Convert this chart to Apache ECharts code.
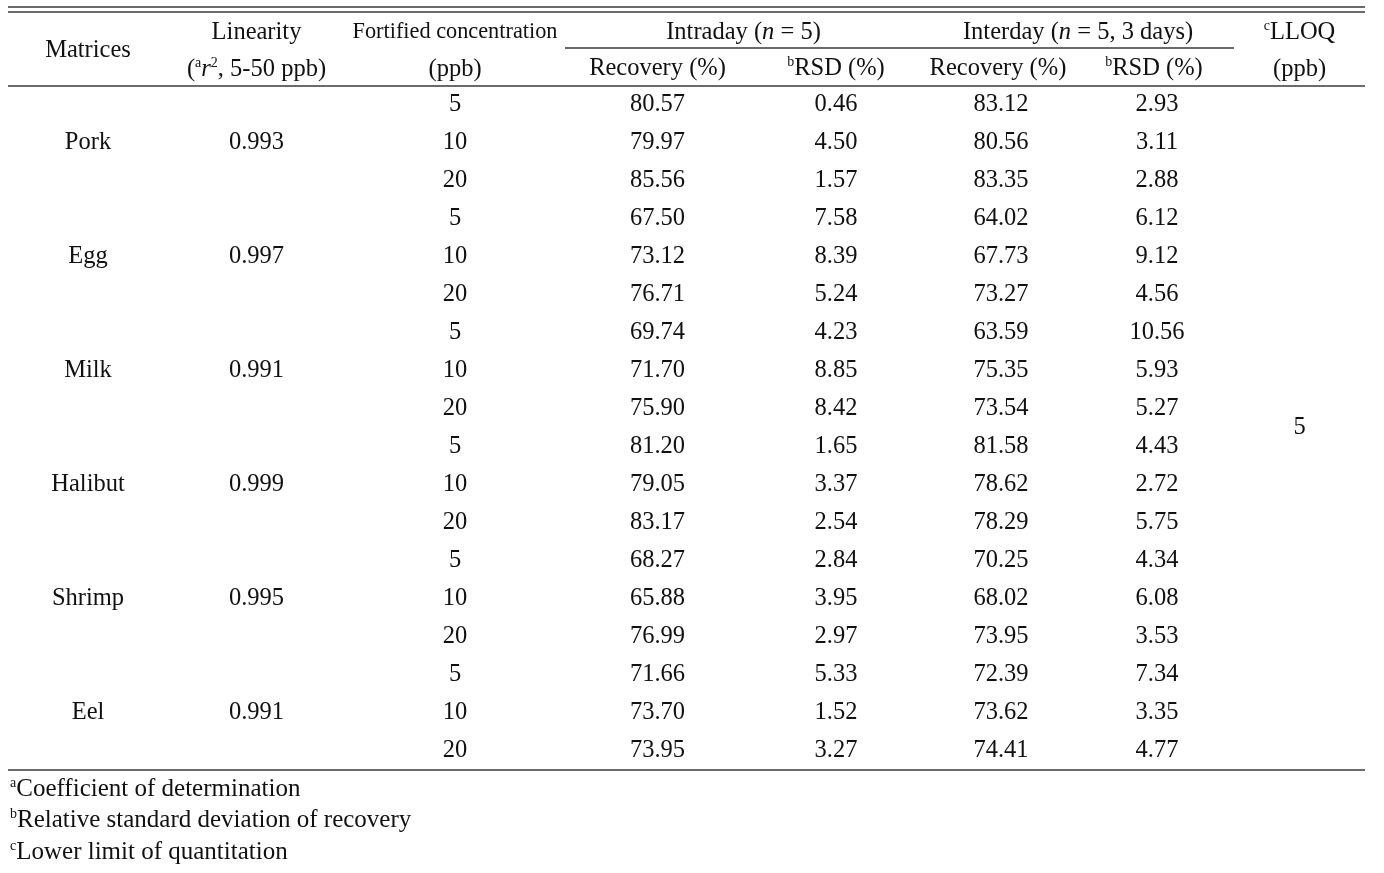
<!DOCTYPE html>
<html>
<head>
<meta charset="utf-8">
<script src="https://cdn.jsdelivr.net/npm/echarts@6.0.0/dist/echarts.min.js"></script>
<style>
html, body { margin: 0; padding: 0; background: #fff; }
#main { width: 1384px; height: 873px; }
</style>
</head>
<body>
<div id="main"></div>
<script>
// table values
var matrices = ['Pork', 'Egg', 'Milk', 'Halibut', 'Shrimp', 'Eel'];
var linearity = ['0.993', '0.997', '0.991', '0.999', '0.995', '0.991'];
var concentrations = ['5', '10', '20'];
var intraRecovery = [80.57, 79.97, 85.56, 67.50, 73.12, 76.71, 69.74, 71.70, 75.90,
    81.20, 79.05, 83.17, 68.27, 65.88, 76.99, 71.66, 73.70, 73.95];
var intraRsd = [0.46, 4.50, 1.57, 7.58, 8.39, 5.24, 4.23, 8.85, 8.42,
    1.65, 3.37, 2.54, 2.84, 3.95, 2.97, 5.33, 1.52, 3.27];
var interRecovery = [83.12, 80.56, 83.35, 64.02, 67.73, 73.27, 63.59, 75.35, 73.54,
    81.58, 78.62, 78.29, 70.25, 68.02, 73.95, 72.39, 73.62, 74.41];
var interRsd = [2.93, 3.11, 2.88, 6.12, 9.12, 4.56, 10.56, 5.93, 5.27,
    4.43, 2.72, 5.75, 4.34, 6.08, 3.53, 7.34, 3.35, 4.77];
var lloq = '5';
var footnotes = [
    '{sup|a}Coefficient of determination',
    '{sup|b}Relative standard deviation of recovery',
    '{sup|c}Lower limit of quantitation'
];

// layout
var tableLeft = 8, tableTop = 12;
var colWidth = [160, 177, 220, 185, 172, 158, 154, 131];
var headerRows = [36, 38];
var rowHeight = 38;
var lineColor = '#3a3a3a';
var font = 'Liberation Serif';
var fontSize = 24.5;

var nRows = intraRecovery.length;
var tableWidth = colWidth.reduce(function (a, b) { return a + b; }, 0);
var headerHeight = headerRows[0] + headerRows[1];
var tableHeight = headerHeight + nRows * rowHeight;

var rich = {
    sup: { fontSize: 14, fontFamily: font, color: '#111', padding: [0, 0, 12, 0] },
    it: { fontSize: fontSize, fontFamily: font, color: '#111', fontStyle: 'italic' },
    fc: { fontSize: 22.3, fontFamily: font, color: '#111' },
    full: { fontSize: fontSize, fontFamily: font, color: '#111', lineHeight: headerHeight }
};

var rowIds = [];
for (var r = 0; r < nRows; r++) rowIds.push('r' + r);

var cells = [];
matrices.forEach(function (m, i) {
    cells.push({ coord: [0, [3 * i, 3 * i + 2]], mergeCells: true, value: m });
    cells.push({ coord: [1, [3 * i, 3 * i + 2]], mergeCells: true, value: linearity[i] });
});
for (var k = 0; k < nRows; k++) {
    cells.push({ coord: [2, k], value: concentrations[k % 3] });
    cells.push({ coord: [3, k], value: intraRecovery[k].toFixed(2) });
    cells.push({ coord: [4, k], value: intraRsd[k].toFixed(2) });
    cells.push({ coord: [5, k], value: interRecovery[k].toFixed(2) });
    cells.push({ coord: [6, k], value: interRsd[k].toFixed(2) });
}
cells.push({ coord: [7, [0, nRows - 1]], mergeCells: true, value: lloq });

var myChart = echarts.init(document.getElementById('main'));

function hline(x1, x2, y) {
    return {
        type: 'line',
        shape: { x1: x1, y1: y, x2: x2, y2: y },
        style: { stroke: lineColor, lineWidth: 1.5 }
    };
}

var subLeft = tableLeft + colWidth[0] + colWidth[1] + colWidth[2];
var subRight = subLeft + colWidth[3] + colWidth[4] + colWidth[5] + colWidth[6];
var graphics = [
    hline(tableLeft, tableLeft + tableWidth, tableTop - 5),
    hline(tableLeft, tableLeft + tableWidth, tableTop),
    hline(subLeft, subRight, tableTop + headerRows[0]),
    hline(tableLeft, tableLeft + tableWidth, tableTop + headerHeight),
    hline(tableLeft, tableLeft + tableWidth, tableTop + tableHeight)
];
footnotes.forEach(function (t, i) {
    graphics.push({
        type: 'text',
        left: tableLeft + 2,
        top: tableTop + tableHeight + 6 + i * 31.5,
        style: {
            text: t,
            font: '25px "' + font + '"',
            fill: '#111',
            rich: rich
        }
    });
});

var option = {
    backgroundColor: '#fff',
    matrix: {
        left: tableLeft,
        top: tableTop,
        width: tableWidth,
        height: tableHeight,
        backgroundStyle: { borderWidth: 0, color: 'transparent' },
        x: {
            data: [
                { value: '{full|Matrices}', size: colWidth[0] },
                { value: 'Linearity\n({sup|a}{it|r}{sup|2}, 5-50 ppb)', size: colWidth[1] },
                { value: '{fc|Fortified concentration}\n(ppb)', size: colWidth[2] },
                {
                    value: 'Intraday ({it|n} = 5)',
                    children: [
                        { value: 'Recovery (%)', size: colWidth[3] },
                        { value: '{sup|b}RSD (%)', size: colWidth[4] }
                    ]
                },
                {
                    value: 'Interday ({it|n} = 5, 3 days)',
                    children: [
                        { value: 'Recovery (%) ', size: colWidth[5] },
                        { value: '{sup|b}RSD (%) ', size: colWidth[6] }
                    ]
                },
                { value: '{sup|c}LLOQ\n(ppb)', size: colWidth[7] }
            ],
            levels: [{ levelSize: headerRows[0] }, { levelSize: headerRows[1] }],
            itemStyle: { borderWidth: 0, color: 'transparent' },
            dividerLineStyle: { width: 0 },
            label: {
                fontFamily: font,
                fontSize: fontSize,
                color: '#111',
                lineHeight: 37,
                align: 'center',
                verticalAlign: 'middle',
                overflow: 'none',
                lineOverflow: 'none',
                rich: rich
            }
        },
        y: {
            show: false,
            data: rowIds
        },
        body: {
            data: cells,
            itemStyle: { borderWidth: 0, color: 'transparent' },
            label: {
                fontFamily: font,
                fontSize: fontSize,
                color: '#111',
                overflow: 'none'
            }
        }
    },
    graphic: graphics
};
window.onresize = myChart.resize;
myChart.setOption(option);
</script>
</body>
</html>
